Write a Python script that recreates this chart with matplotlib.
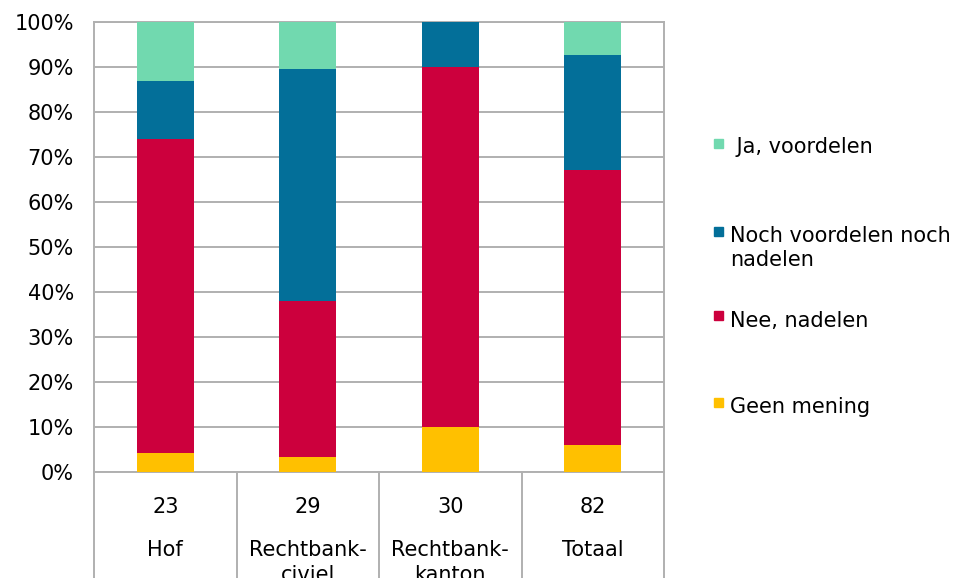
import numpy as np
import matplotlib.pyplot as plt
from matplotlib.patches import Rectangle

# Data (percentages per category)
categorieen = ['Hof', 'Rechtbank-\nciviel', 'Rechtbank-\nkanton', 'Totaal']
aantallen = ['23', '29', '30', '82']
geen_mening = [4.3, 3.4, 10.0, 6.1]
nee_nadelen = [69.6, 34.5, 80.0, 61.0]
noch_noch = [13.0, 51.7, 10.0, 25.6]
ja_voordelen = [13.1, 10.4, 0.0, 7.3]

series = [
    ('Geen mening', geen_mening, '#FFC000'),
    ('Nee, nadelen', nee_nadelen, '#CC003D'),
    ('Noch voordelen noch\nnadelen', noch_noch, '#036F99'),
    (' Ja, voordelen', ja_voordelen, '#71D9AF'),
]

W, H = 960, 578
grijs = '#B0B0B0'
fs = 15

plt.rcParams['font.family'] = ['DejaVu Sans']

fig = plt.figure(figsize=(W / 100, H / 100), dpi=100)
# axes box in pixels: left 94, right 664, top 22, bottom 472
ax = fig.add_axes([94 / W, 1 - 472 / H, 570 / W, 450 / H])

x = np.arange(len(categorieen))
bodem = np.zeros(len(categorieen))
for naam, waarden, kleur in series:
    ax.bar(x, waarden, width=0.4, bottom=bodem, color=kleur, zorder=3)
    bodem += np.array(waarden)

ax.set_xlim(-0.5, len(categorieen) - 0.5)
ax.set_ylim(0, 100)
ax.set_yticks(np.arange(0, 101, 10))
ax.set_yticklabels([f'{v}%' for v in range(0, 101, 10)], fontsize=fs)
ax.tick_params(axis='y', length=0, pad=14.5)
ax.set_xticks([])
ax.grid(axis='y', color=grijs, linewidth=1.4, zorder=0)
for s in ax.spines.values():
    s.set_color(grijs)
    s.set_linewidth(1.4)

# two-level category axis with dividers
trans = ax.get_xaxis_transform()
onder = -(H - 472) / 450
for grens in np.arange(-0.5, len(categorieen), 1.0):
    ax.plot([grens, grens], [0, onder], color=grijs, linewidth=1.4,
            transform=trans, clip_on=False)
for i in range(len(categorieen)):
    ax.text(x[i], (472 - 497) / 450, aantallen[i], transform=trans,
            ha='center', va='top', fontsize=fs)
    ax.text(x[i], (472 - 540) / 450, categorieen[i], transform=trans,
            ha='center', va='top', fontsize=fs, linespacing=1.34,
            multialignment='center')

# legend (drawn by hand to match spacing)
legend_top = [137, 226, 311, 397]
vak_top = [139, 227, 311, 398]
for (naam, waarden, kleur), ty, vy in zip(series[::-1], legend_top, vak_top):
    fig.patches.append(Rectangle((714 / W, 1 - (vy + 8.5) / H), 9 / W, 8.5 / H,
                                 transform=fig.transFigure, color=kleur))
    fig.text(730 / W, 1 - ty / H, naam, ha='left', va='top', fontsize=fs,
             linespacing=1.25)

fig.savefig('out.png', dpi=100)
